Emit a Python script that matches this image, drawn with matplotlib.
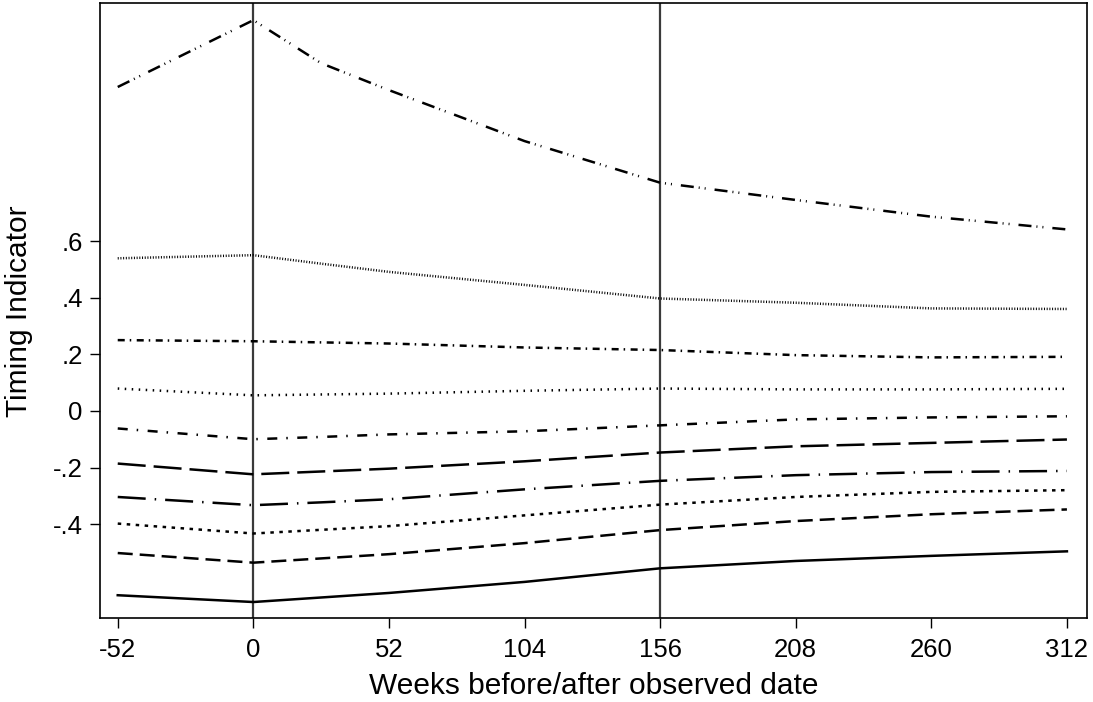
import matplotlib
matplotlib.use("Agg")
import matplotlib.pyplot as plt

plt.rcParams['font.family'] = ['Liberation Sans', 'DejaVu Sans']
plt.rcParams['lines.scale_dashes'] = False

weeks = [-52, 0, 26, 52, 104, 156, 208, 260, 312]

s1 = [1.144, 1.380, 1.228, 1.133, 0.953, 0.806, 0.745, 0.686, 0.641]
s2 = [0.539, 0.550, 0.520, 0.491, 0.445, 0.397, 0.382, 0.362, 0.360]
s3 = [0.250, 0.246, 0.242, 0.238, 0.224, 0.215, 0.197, 0.189, 0.191]
s4 = [0.079, 0.055, 0.058, 0.061, 0.071, 0.079, 0.076, 0.076, 0.078]
s5 = [-0.062, -0.100, -0.092, -0.083, -0.072, -0.051, -0.030, -0.023, -0.019]
s6 = [-0.186, -0.224, -0.214, -0.204, -0.178, -0.147, -0.125, -0.113, -0.101]
s7 = [-0.304, -0.333, -0.323, -0.312, -0.277, -0.247, -0.227, -0.216, -0.212]
s8 = [-0.398, -0.433, -0.420, -0.407, -0.369, -0.331, -0.304, -0.286, -0.280]
s9 = [-0.502, -0.536, -0.521, -0.506, -0.467, -0.421, -0.389, -0.365, -0.348]
s10 = [-0.651, -0.675, -0.659, -0.643, -0.604, -0.556, -0.530, -0.512, -0.496]

series = [s1, s2, s3, s4, s5, s6, s7, s8, s9, s10]

xticks = [-52, 0, 52, 104, 156, 208, 260, 312]
yticks = [-0.4, -0.2, 0, 0.2, 0.4, 0.6]
ytick_labels = ["-.4", "-.2", "0", ".2", ".4", ".6"]
vlines = [0, 156]

px = 0.72
styles = [
    (0, (13*px, 5*px, 1*px, 5*px, 1*px, 9*px)),
    (0, (1*px, 1.7*px)),
    (0, (7*px, 5*px, 1.5*px, 5.5*px)),
    (0, (1.5*px, 5.5*px)),
    (0, (10*px, 9*px, 1.5*px, 9.5*px)),
    (0, (28*px, 8*px)),
    (0, (28*px, 9*px, 1.5*px, 9*px)),
    (0, (3.5*px, 5.5*px)),
    (0, (15*px, 7*px)),
    'solid',
]

fig = plt.figure(figsize=(10.93, 7.02), dpi=100)
ax = fig.add_axes([100/1093, 1-618.3/702, (1087-100)/1093, (618.3-3.3)/702])

for xv in vlines:
    ax.axvline(xv, color='#3a3a3a', lw=1.6, zorder=1)

for s, ls in zip(series, styles):
    ax.plot(weeks, s, color='black', lw=1.8, linestyle=ls, zorder=2)

ax.set_xlim(-58.8, 319.7)
ax.set_ylim(-0.7325, 1.4396)
ax.set_xticks(xticks)
ax.set_xticklabels([str(v) for v in xticks])
ax.set_yticks(yticks)
ax.set_yticklabels(ytick_labels)
ax.tick_params(direction='out', length=7.5, width=1.0, labelsize=18.5, pad=5, colors='black')
ax.tick_params(axis='x', pad=7)
for sp in ax.spines.values():
    sp.set_linewidth(1.2)
ax.set_xlabel("Weeks before/after observed date", fontsize=21.5, labelpad=7)
ax.set_ylabel("Timing Indicator", fontsize=21.5, labelpad=14)

fig.savefig("out.png", dpi=100)
